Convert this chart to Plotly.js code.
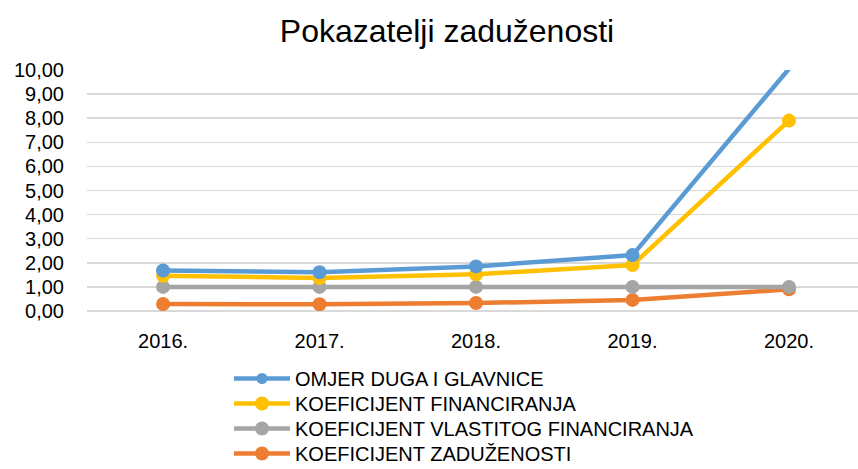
<!DOCTYPE html>
<html>
<head>
<meta charset="utf-8">
<script src="https://cdn.plot.ly/plotly-3.0.1.min.js"></script>
<style>html,body{margin:0;padding:0;background:#fff;}#chart{width:858px;height:469px;}</style>
</head>
<body>
<div id="chart"></div>
<script>
const categories = ["2016.", "2017.", "2018.", "2019.", "2020."];
const omjerDugaIGlavnice = [1.68, 1.61, 1.85, 2.32, 10.05];
const koeficijentFinanciranja = [1.46, 1.37, 1.52, 1.91, 7.90];
const koeficijentVlastitogFinanciranja = [1.0, 1.0, 1.0, 1.0, 1.0];
const koeficijentZaduzenosti = [0.29, 0.28, 0.33, 0.46, 0.90];
const yTickValues = [0, 1, 2, 3, 4, 5, 6, 7, 8, 9, 10];
const yTickLabels = ["0,00", "1,00", "2,00", "3,00", "4,00", "5,00", "6,00", "7,00", "8,00", "9,00", "10,00"];

const yMax = 10;
const FONT = "Liberation Sans, Arial, sans-serif";

function series(name, values, color, legendId) {
  return {
    type: "scatter",
    mode: "lines+markers",
    name: name,
    legend: legendId,
    x: categories,
    y: values,
    line: {color: color, width: 4.5},
    marker: {
      color: color,
      opacity: 1,
      size: values.map(v => v > yMax ? 0 : 14),
      line: {width: 0, color: color}
    },
    cliponaxis: true
  };
}

// drawing order: orange below, blue on top
const traces = [
  series("KOEFICIJENT ZADUŽENOSTI", koeficijentZaduzenosti, "#ED7D31", "legend4"),
  series("KOEFICIJENT VLASTITOG FINANCIRANJA", koeficijentVlastitogFinanciranja, "#A5A5A5", "legend3"),
  series("KOEFICIJENT FINANCIRANJA", koeficijentFinanciranja, "#FFC000", "legend2"),
  series("OMJER DUGA I GLAVNICE", omjerDugaIGlavnice, "#5B9BD5", "legend")
];

function legendBox(k) {
  return {
    orientation: "v",
    x: 229 / 858, xref: "container", xanchor: "left",
    y: 1 - (359 + 25 * k) / 469, yref: "container", yanchor: "top",
    font: {family: FONT, size: 20, color: "#000000"},
    itemwidth: 56,
    bgcolor: "rgba(0,0,0,0)",
    borderwidth: 0
  };
}

const layout = {
  width: 858,
  height: 469,
  margin: {l: 87, r: 0, t: 70, b: 158, autoexpand: false},
  paper_bgcolor: "#ffffff",
  plot_bgcolor: "#ffffff",
  font: {family: FONT, size: 20, color: "#000000"},
  title: {
    text: "Pokazatelji zaduženosti",
    font: {family: FONT, size: 32, color: "#000000"},
    x: 447 / 858, xref: "container", xanchor: "center",
    y: 1 - 31 / 469, yref: "container", yanchor: "middle"
  },
  showlegend: true,
  legend: legendBox(0),
  legend2: legendBox(1),
  legend3: legendBox(2),
  legend4: legendBox(3),
  xaxis: {
    type: "category",
    range: [-0.486, 4.441],
    showgrid: false,
    zeroline: false,
    showline: false,
    ticks: "",
    tickangle: 0,
    ticklabelstandoff: 16,
    tickfont: {family: FONT, size: 20, color: "#000000"},
    fixedrange: true
  },
  yaxis: {
    range: [0, yMax],
    tickvals: yTickValues,
    ticktext: yTickLabels,
    showgrid: true,
    gridcolor: "#D9D9D9",
    gridwidth: 1.5,
    zeroline: true,
    zerolinecolor: "#D9D9D9",
    zerolinewidth: 1.5,
    showline: false,
    ticks: "",
    ticklabelstandoff: 22,
    tickfont: {family: FONT, size: 20, color: "#000000"},
    fixedrange: true
  }
};

Plotly.newPlot("chart", traces, layout, {displayModeBar: false, staticPlot: true});
</script>
</body>
</html>
